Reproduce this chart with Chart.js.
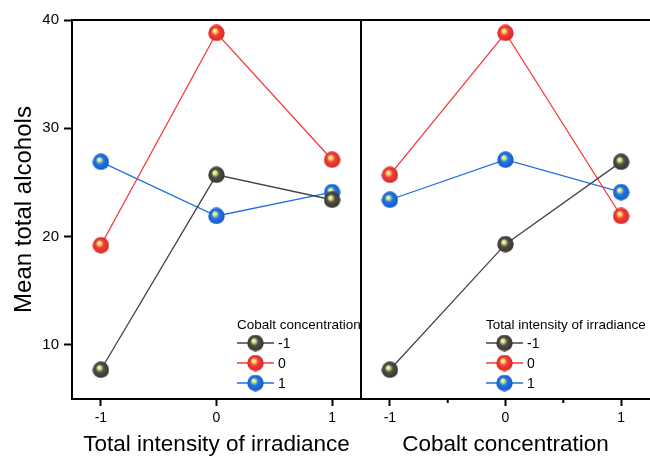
<!DOCTYPE html>
<html>
<head>
<meta charset="utf-8">
<script src="https://cdn.jsdelivr.net/npm/chart.js@4"></script>
<style>
  body { margin: 0; background: #fff; }
  canvas { position: absolute; top: 0; }
  #left { left: 0; }
  #right { left: 360px; }
</style>
</head>
<body>
<canvas id="left" width="361" height="458"></canvas>
<canvas id="right" width="290" height="458"></canvas>
<script>
// factor levels and tick labels
const xLevels = [-1, 0, 1];
const seriesLabels = ["-1", "0", "1"];
const yTicks = [10, 20, 30, 40];
const minorTicks = [-0.5, 0.5];

// left panel: x = irradiance, lines = cobalt concentration
const leftLow = [7.7, 25.7, 23.4];
const leftMid = [19.2, 38.8, 27.1];
const leftHigh = [26.9, 21.9, 24.1];

// right panel: x = cobalt, lines = irradiance
const rightLow = [7.7, 19.3, 26.9];
const rightMid = [25.7, 38.8, 21.9];
const rightHigh = [23.4, 27.1, 24.1];

const lineColors = ["#454545", "#ef3b3b", "#1f6fdf"];
const sphereColors = [
  ["#505048", "#34342c", "#e8e890"],
  ["#f23e3a", "#d42824", "#ffe070"],
  ["#2274e4", "#1458c8", "#d8f080"],
];

Chart.defaults.font.family = "'Liberation Sans', Arial, sans-serif";
Chart.defaults.color = "#000";

function sphere(c) {
  const cv = document.createElement("canvas");
  cv.width = 17;
  cv.height = 17;
  const g = cv.getContext("2d");
  const grad = g.createRadialGradient(6.5, 6, 0.3, 8.5, 8.5, 8.5);
  grad.addColorStop(0, "#ffffb0");
  grad.addColorStop(0.16, c[2]);
  grad.addColorStop(0.45, c[0]);
  grad.addColorStop(1, c[1]);
  g.fillStyle = grad;
  g.beginPath();
  g.arc(8.5, 8.5, 8.2, 0, Math.PI * 2);
  g.fill();
  return cv;
}
const spheres = sphereColors.map(sphere);

function makeDatasets(series) {
  return series.map((vals, i) => ({
    label: seriesLabels[i],
    data: vals.map((v, j) => ({ x: xLevels[j], y: v })),
    borderColor: lineColors[i],
    borderWidth: 1.3,
    pointStyle: spheres[i],
    pointRadius: 8,
    pointHoverRadius: 8,
  }));
}

const framePlugin = {
  id: "frame",
  afterDraw(chart, args, opts) {
    const { ctx, chartArea: a } = chart;
    ctx.save();
    ctx.strokeStyle = "#000";
    ctx.lineWidth = 2;
    ctx.beginPath();
    ctx.moveTo(a.left - 1, a.top);
    ctx.lineTo(a.right, a.top);
    if (opts.leftLine) {
      ctx.moveTo(a.left, a.top);
      ctx.lineTo(a.left, a.bottom);
    }
    ctx.stroke();

    // minor ticks
    if (opts.minor) {
      const xs = chart.scales.x;
      ctx.beginPath();
      opts.minor.forEach((v) => {
        const px = xs.getPixelForValue(v);
        ctx.moveTo(px, a.bottom);
        ctx.lineTo(px, a.bottom + 4);
      });
      ctx.stroke();
    }

    // legend inside the panel
    ctx.beginPath();
    ctx.rect(a.left, a.top, a.width, a.height);
    ctx.clip();
    ctx.fillStyle = "#000";
    ctx.textBaseline = "middle";
    ctx.font = "13.5px 'Liberation Sans', Arial, sans-serif";
    ctx.fillText(opts.title, opts.x, opts.y);
    ctx.font = "14px 'Liberation Sans', Arial, sans-serif";
    chart.data.datasets.forEach((ds, i) => {
      const y = opts.y + 18 + i * 20;
      ctx.strokeStyle = ds.borderColor;
      ctx.lineWidth = 1.5;
      ctx.beginPath();
      ctx.moveTo(opts.x, y);
      ctx.lineTo(opts.x + 37, y);
      ctx.stroke();
      ctx.drawImage(ds.pointStyle, opts.x + 10, y - 8.5);
      ctx.fillText(ds.label, opts.x + 41, y + 1);
    });
    ctx.restore();
  },
};

function xAxis(title) {
  return {
    type: "linear",
    min: -1.25,
    max: 1.25,
    afterBuildTicks: (s) => { s.ticks = xLevels.map((v) => ({ value: v })); },
    afterFit: (s) => { s.height = 59; },
    border: { display: true, color: "#000", width: 2 },
    grid: { drawOnChartArea: false, drawTicks: true, tickLength: 7, tickColor: "#000", tickWidth: 2 },
    ticks: { font: { size: 14 }, padding: 4, callback: (v) => String(v) },
    title: { display: true, text: title, font: { size: 22.5 }, padding: { top: 0, bottom: 0 } },
  };
}

const leftChart = new Chart(document.getElementById("left"), {
  type: "line",
  data: { datasets: makeDatasets([leftLow, leftMid, leftHigh]) },
  options: {
    responsive: false,
    animation: false,
    layout: { autoPadding: false, padding: { top: 20, right: 0, left: 0, bottom: 0 } },
    scales: {
      x: xAxis("Total intensity of irradiance"),
      y: {
        min: 5,
        max: 40,
        afterBuildTicks: (s) => { s.ticks = yTicks.map((v) => ({ value: v })); },
        afterFit: (s) => { s.width = 72; },
        border: { display: true, color: "#000", width: 2 },
        grid: { drawOnChartArea: false, drawTicks: true, tickLength: 8, tickColor: "#000", tickWidth: 2 },
        ticks: { font: { size: 15 }, padding: 5 },
        title: { display: true, text: "Mean total alcohols", font: { size: 24 }, padding: { top: 10, bottom: 0 } },
      },
    },
    plugins: {
      legend: { display: false },
      tooltip: { enabled: false },
      frame: { title: "Cobalt concentration", x: 237, y: 325, leftLine: false },
    },
  },
  plugins: [framePlugin],
});

const rightChart = new Chart(document.getElementById("right"), {
  type: "line",
  data: { datasets: makeDatasets([rightLow, rightMid, rightHigh]) },
  options: {
    responsive: false,
    animation: false,
    layout: { autoPadding: false, padding: { top: 20, right: 0, left: 1, bottom: 0 } },
    scales: {
      x: xAxis("Cobalt concentration"),
      y: { display: false, min: 5, max: 40 },
    },
    plugins: {
      legend: { display: false },
      tooltip: { enabled: false },
      frame: { title: "Total intensity of irradiance", x: 126, y: 325, leftLine: true, minor: minorTicks },
    },
  },
  plugins: [framePlugin],
});
</script>
</body>
</html>
